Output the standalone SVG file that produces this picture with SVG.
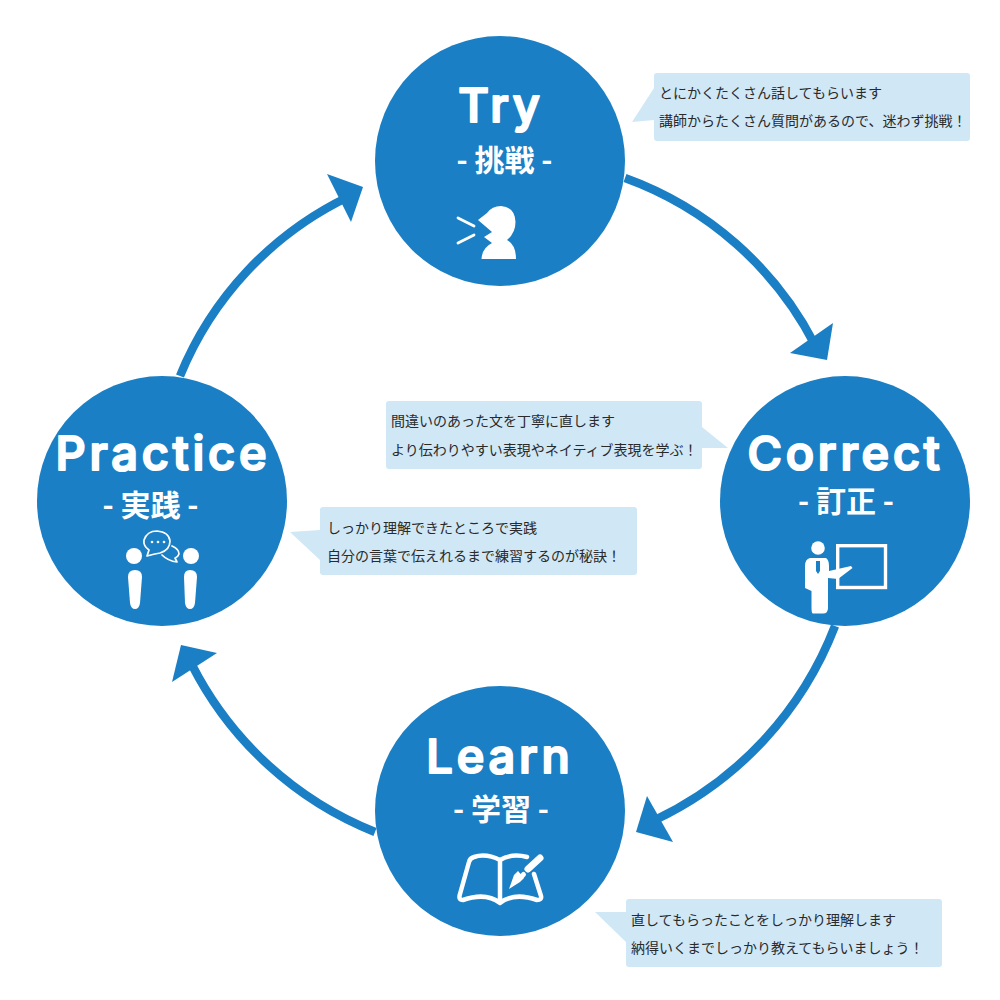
<svg xmlns="http://www.w3.org/2000/svg" width="1000" height="1000" viewBox="0 0 1000 1000">
<style>
.c{fill:#1a7fc4}
.t{font-family:"Inter","Liberation Sans",sans-serif;font-weight:500;font-size:47px;letter-spacing:3.800px;fill:#fff;stroke:#fff;stroke-width:2.200;stroke-linejoin:round;text-anchor:middle}
.s{font-family:"Noto Sans CJK JP",sans-serif;font-weight:700;font-size:30px;fill:#fff;text-anchor:middle}
.b{fill:#d0e7f6}
.n{font-family:"Noto Sans CJK JP",sans-serif;font-size:14px;fill:#2a2a2a}
.a{fill:none;stroke:#1a7fc4;stroke-width:8.500}
.i{fill:#fff}
.l{fill:none;stroke:#fff;stroke-linecap:round}
.o{fill:none;stroke:#fff;stroke-linejoin:round;stroke-linecap:round}
</style>
<g id="connectors">
<path class="a" d="M625 178A346 346 0 0 1 815 345"/><path class="c" d="M833 323L827 360L790 353Z"/>
<path class="a" d="M835 626A356 356 0 0 1 655 820"/><path class="c" d="M647 796L636 832L673 842Z"/>
<path class="a" d="M375 832A352 352 0 0 1 192 665"/><path class="c" d="M181 645L217 653L172 682Z"/>
<path class="a" d="M180 376A342 342 0 0 1 348 197"/><path class="c" d="M327 174L363 187L351 222Z"/>
</g>
<g id="try">
<circle class="c" cx="500" cy="161" r="125"/>
<text class="t" x="501" y="122">Try</text>
<text class="s" x="504.500" y="171">- 挑戦 -</text>
<path class="i" d="M478 220L487 213Q492 206 501 206Q515 207 515.500 222Q515.500 233 507 240Q516 245 516 259H481.500Q482 248 492 243L484 237L492 232Z"/>
<path class="l" stroke-width="2.800" d="M458 218L474 226M458 243L474 235"/>
</g>
<g id="correct">
<circle class="c" cx="845" cy="501" r="125"/>
<text class="t" x="845.500" y="470">Correct</text>
<text class="s" x="846" y="512">- 訂正 -</text>
<circle class="i" cx="818" cy="548" r="6.800"/>
<path class="i" d="M810 558H826Q829 560 829 566V571L851 566L852.500 568L838 579L828 578V608Q828 613.500 823 613.500H813Q811.500 613.500 811.500 608V591L805 588V566Q805 559 810 558Z"/>
<path class="c" d="M816 561H820V571L818 574L816 571Z"/>
<rect x="837.700" y="545.700" width="47.800" height="41.800" fill="none" stroke="#fff" stroke-width="3.400"/>
</g>
<g id="learn">
<circle class="c" cx="500" cy="811" r="125"/>
<text class="t" x="500" y="773">Learn</text>
<text class="s" x="501" y="820">- 学習 -</text>
<path class="o" stroke-width="4.500" d="M500 860V902M500 860Q486 853 474 857Q470 858 469 862L460 894Q458 900 463 900Q486 892 500 903Q514 892 537 900Q542 900 541 896L534 874M500 860Q512 853 527 857"/>
<path class="o" stroke-width="7" d="M528 869L540 858"/>
<path class="o" stroke-width="5" d="M521 877L523.500 874.500"/>
<path class="i" d="M509 889L514 875L518 871L524 878L520 882Z"/>
</g>
<g id="practice">
<circle class="c" cx="162" cy="501" r="125"/>
<text class="t" x="163" y="470">Practice</text>
<text class="s" x="150.500" y="516">- 実践 -</text>
<circle class="i" cx="134" cy="556" r="8"/><circle class="i" cx="191" cy="556" r="8"/>
<path class="i" d="M128 577Q128 570 135 570Q142 570 142 577L140 603Q139 609 135 609Q131 609 130 603Z"/>
<path class="i" d="M184 577Q184 570 190 570Q197 570 197 577L195 603Q194 609 190 609Q186 609 185 603Z"/>
<path class="o" stroke-width="1.700" d="M147 556L149 550Q143 546 144 540Q147 531 157 531Q169 532 170 541Q170 550 160 553Q154 554 147 556Z"/>
<path class="o" stroke-width="1.700" d="M172 546Q179 549 179 554Q178 557 175 558L177 562Q168 561 162 555"/>
<circle class="i" cx="152" cy="542" r="1.300"/><circle class="i" cx="158" cy="542" r="1.300"/><circle class="i" cx="164" cy="542" r="1.300"/>
</g>
<g id="note-try">
<path class="b" d="M657 73H967Q970 73 970 76V138Q970 141 967 141H657Q654 141 654 138V120L632 122L654 88V76Q654 73 657 73Z"/>
<text class="n" x="659" y="98">とにかくたくさん話してもらいます</text>
<text class="n" x="659" y="126">講師からたくさん質問があるので、迷わず挑戦！</text>
</g>
<g id="note-correct">
<path class="b" d="M389 401H699Q702 401 702 404V427L728 448L702 448V466Q702 469 699 469H389Q386 469 386 466V404Q386 401 389 401Z"/>
<text class="n" x="391" y="426">間違いのあった文を丁寧に直します</text>
<text class="n" x="391" y="455">より伝わりやすい表現やネイティブ表現を学ぶ！</text>
</g>
<g id="note-practice">
<path class="b" d="M323 507H634Q637 507 637 510V572Q637 575 634 575H323Q320 575 320 572V560L290 532L320 530V510Q320 507 323 507Z"/>
<text class="n" x="327" y="533">しっかり理解できたところで実践</text>
<text class="n" x="327" y="561">自分の言葉で伝えれるまで練習するのが秘訣！</text>
</g>
<g id="note-learn">
<path class="b" d="M629 899H939Q942 899 942 902V964Q942 967 939 967H629Q626 967 626 964V942L595 912L626 912V902Q626 899 629 899Z"/>
<text class="n" x="631" y="925">直してもらったことをしっかり理解します</text>
<text class="n" x="631" y="953">納得いくまでしっかり教えてもらいましょう！</text>
</g>
</svg>
